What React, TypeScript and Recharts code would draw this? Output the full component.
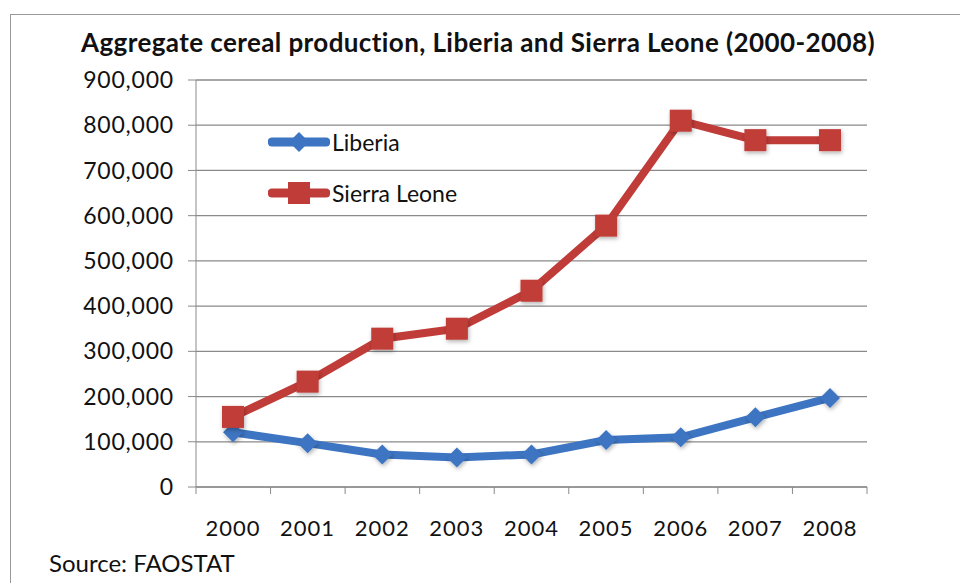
import React from 'react';
import { LineChart, Line, XAxis, YAxis, CartesianGrid, Legend } from 'recharts';

// Aggregate cereal production (tonnes)
const YEARS = ['2000', '2001', '2002', '2003', '2004', '2005', '2006', '2007', '2008'];
const LIBERIA = [121000, 97000, 72000, 65000, 72000, 104000, 110000, 154000, 197000];
const SIERRA_LEONE = [155000, 233000, 328000, 350000, 434000, 578000, 810000, 767000, 767000];
const Y_TICKS = [0, 100000, 200000, 300000, 400000, 500000, 600000, 700000, 800000, 900000];
// category boundaries for the x-axis tick marks (Excel style "between" ticks)
const EDGE_TICKS = [0, 1, 2, 3, 4, 5, 6, 7, 8, 9];

const FONT = 'Lato, "Open Sans", sans-serif';
const BLUE = '#3d75c2';
const RED = '#c03c38';
const AXIS = '#8a8a8a';

const data = YEARS.map((year, i) => ({
    year,
    slot: i + 0.5, // centre of the category on the boundary axis
    liberia: LIBERIA[i],
    sierraLeone: SIERRA_LEONE[i]
}));

const SERIES = [
    { key: 'liberia', name: 'Liberia', color: BLUE, shape: 'diamond' },
    { key: 'sierraLeone', name: 'Sierra Leone', color: RED, shape: 'square' }
];

const Marker = ({ cx, cy, shape, color }: { cx: number; cy: number; shape: string; color: string }) => {
    if (shape === 'diamond') {
        const r = 10;
        return <path d={`M${cx},${cy - r}L${cx + r},${cy}L${cx},${cy + r}L${cx - r},${cy}Z`} fill={color} />;
    }
    const s = 11;
    return <rect x={cx - s} y={cy - s} width={s * 2} height={s * 2} fill={color} />;
};

const makeDot = (shape: string, color: string) => (props: any) => {
    const { cx, cy, index } = props;
    if (cx == null || cy == null) return <g key={`e-${index}`} />;
    return (
        <g key={`${shape}-${index}`} filter="url(#softShadow)">
            <Marker cx={cx} cy={cy} shape={shape} color={color} />
        </g>
    );
};

const renderLegend = () => (
    <div style={{ fontFamily: FONT, fontSize: 23, color: '#111' }}>
        {SERIES.map((s) => (
            <div key={s.key} style={{ display: 'flex', alignItems: 'center', height: 51 }}>
                <svg width={62} height={26} style={{ marginRight: 2 }}>
                    <line x1={4} y1={13} x2={58} y2={13} stroke={s.color} strokeWidth={9} strokeLinecap="round" />
                    <Marker cx={31} cy={13} shape={s.shape} color={s.color} />
                </svg>
                <span>{s.name}</span>
            </div>
        ))}
    </div>
);

export default function App() {
    return (
        <div style={{ position: 'absolute', left: 0, top: 0, width: 960, height: 583, background: '#fff', overflow: 'hidden' }}>
            {/* outer frame */}
            <div style={{ position: 'absolute', left: 10, top: 14, right: -2, bottom: -2, borderTop: '1.5px solid #999', borderLeft: '1.5px solid #999' }} />
            <div style={{ position: 'absolute', left: 0, top: 26, width: 956, textAlign: 'center', fontFamily: FONT, fontWeight: 700, fontSize: 26, letterSpacing: 0.4, color: '#111' }}>
                Aggregate cereal production, Liberia and Sierra Leone (2000-2008)
            </div>
            <LineChart
                width={960}
                height={583}
                data={data}
                margin={{ top: 80, right: 93, left: 0, bottom: 35 }}
                style={{ position: 'absolute', left: 0, top: 0 }}
            >
                <defs>
                    <filter id="softShadow" x="-50%" y="-50%" width="200%" height="200%">
                        <feDropShadow dx="1" dy="2" stdDeviation="2" floodColor="#000" floodOpacity="0.3" />
                    </filter>
                </defs>
                <CartesianGrid vertical={false} stroke={AXIS} strokeWidth={1.3} xAxisId="b" />
                <XAxis
                    xAxisId="a"
                    dataKey="slot"
                    type="number"
                    domain={[0, 9]}
                    allowDataOverflow
                    ticks={EDGE_TICKS}
                    interval={0}
                    tickFormatter={() => ''}
                    stroke={AXIS}
                    tickSize={7}
                    height={1}
                />
                <XAxis
                    xAxisId="b"
                    dataKey="year"
                    padding={{ left: 37, right: 37 }}
                    axisLine={false}
                    tickLine={false}
                    tickMargin={26}
                    height={60}
                    tick={{ fontFamily: FONT, fontSize: 22, fill: '#111', letterSpacing: 1 }}
                />
                <YAxis
                    width={196}
                    domain={[0, 900000]}
                    ticks={Y_TICKS}
                    interval={0}
                    stroke={AXIS}
                    tickSize={8}
                    tickMargin={14}
                    tickFormatter={(v: number) => v.toLocaleString('en-US')}
                    tick={{ fontFamily: FONT, fontSize: 23, fill: '#111', letterSpacing: 0.8 }}
                />
                <Legend
                    layout="vertical"
                    align="center"
                    verticalAlign="middle"
                    content={renderLegend}
                    wrapperStyle={{ left: 268, top: 116, width: 'auto' }}
                />
                <Line
                    xAxisId="b"
                    dataKey="liberia"
                    name="Liberia"
                    stroke={BLUE}
                    strokeWidth={8}
                    dot={makeDot('diamond', BLUE)}
                    activeDot={false}
                    isAnimationActive={false}
                />
                <Line
                    xAxisId="b"
                    dataKey="sierraLeone"
                    name="Sierra Leone"
                    stroke={RED}
                    strokeWidth={8}
                    dot={makeDot('square', RED)}
                    activeDot={false}
                    isAnimationActive={false}
                />
            </LineChart>
            <div style={{ position: 'absolute', left: 49, top: 548, fontFamily: FONT, fontSize: 24, color: '#111' }}>
                Source: FAOSTAT
            </div>
        </div>
    );
}
